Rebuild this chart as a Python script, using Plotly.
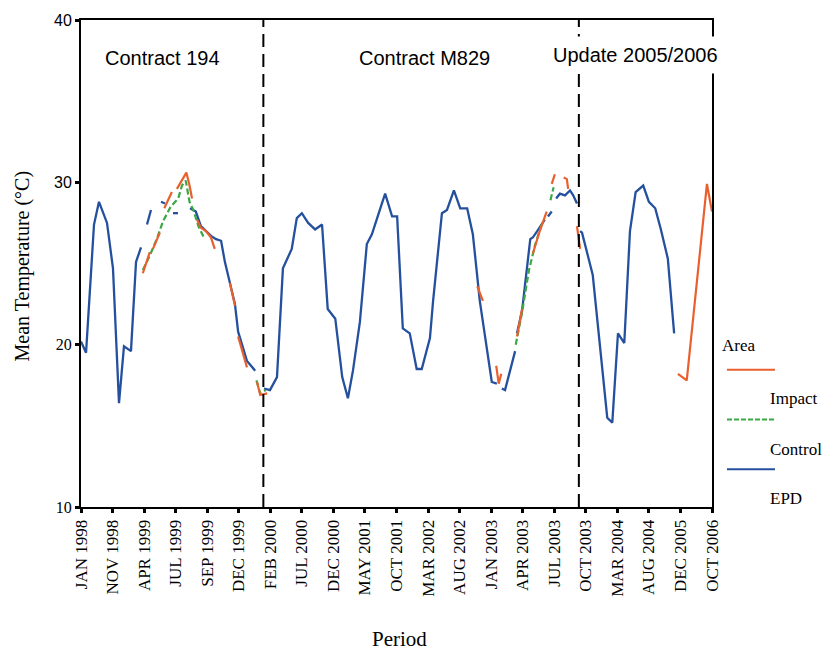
import plotly.graph_objects as go

# ---- survey periods (one tick every fifth sampling occasion) ----
period_labels = ["JAN 1998", "NOV 1998", "APR 1999", "JUL 1999", "SEP 1999",
                 "DEC 1999", "FEB 2000", "JUL 2000", "DEC 2000", "MAY 2001",
                 "OCT 2001", "MAR 2002", "AUG 2002", "JAN 2003", "APR 2003",
                 "JUL 2003", "OCT 2003", "MAR 2004", "AUG 2004", "DEC 2005",
                 "OCT 2006"]
label_index = list(range(0, 101, 5))
temp_ticks = [10, 20, 30, 40]

# contract boundaries (sampling index) and their names
period_breaks = [28.9, 78.9]
period_names = ["Contract 194", "Contract M829", "Update 2005/2006"]

# ---- mean temperature (°C); None marks a break in the record ----
epd_idx = [0.0, 0.8, 2.06, 2.85, 4.12, 5.07, 6.02, 6.81, 7.92, 8.72, 9.51, None,
           10.46, 11.09, None,
           12.68, 13.31, None,
           14.58, 15.37, None,
           17.27, 18.2, 19.0, 19.8, 20.6, 21.4, 22.2, 22.8, 23.6, 24.4, 24.9, 26.3, 27.6, None,
           29.0, 29.95, 31.06, 32.0, 33.4, 34.2, 35.0, 36.0, 37.1, 38.2, 39.1, 40.3, 41.4,
           42.3, 43.1, 44.2, 45.3, 46.1, 47.1, 48.2, 49.3, 50.1, 51.0, 52.1, 53.2, 54.0,
           55.3, 55.8, 57.2, 58.0, 59.1, 60.1, 61.2, 62.1, 63.2, 65.1, 65.9, None,
           66.7, 67.2, 68.8, None,
           69.1, 69.9, 71.2, 71.6, 72.3, 73.5, None,
           74.0, 74.6, None,
           75.3, 75.9, 76.7, 77.5, 78.0, 78.6, None,
           79.1, 79.4, 81.1, 83.4, 84.2, 85.1, 86.1, 87.0, 87.9, 89.1, 90.0, 91.0, 91.9,
           93.0, 94.0]
epd_temp = [20.2, 19.5, 27.4, 28.8, 27.5, 24.7, 16.4, 19.9, 19.6, 25.1, 26.0, None,
            27.4, 28.3, None,
            28.8, 28.7, None,
            28.1, 28.1, None,
            28.4, 28.2, 27.3, 27.0, 26.7, 26.5, 26.4, 25.1, 23.7, 22.5, 20.8, 19.0, 18.4, None,
            17.3, 17.2, 18.0, 24.7, 25.9, 27.8, 28.1, 27.5, 27.1, 27.4, 22.2, 21.6, 18.0,
            16.7, 18.4, 21.4, 26.2, 26.8, 28.0, 29.3, 27.9, 27.9, 21.0, 20.7, 18.5, 18.5,
            20.4, 22.7, 28.1, 28.3, 29.5, 28.4, 28.4, 26.8, 22.7, 17.7, 17.6, None,
            17.3, 17.2, 19.6, None,
            20.7, 22.1, 26.5, 26.6, 27.0, 27.7, None,
            27.9, 28.2, None,
            29.0, 29.3, 29.2, 29.5, 29.2, 28.7, None,
            27.0, 26.9, 24.3, 15.5, 15.2, 20.7, 20.1, 27.0, 29.4, 29.8, 28.8, 28.4, 27.1,
            25.3, 20.7]

impact_idx = [9.8, 10.9, None, 11.4, 12.5, None, 13.2, 14.4, None,
              15.2, 16.7, 17.2, 17.6, None,
              18.4, 19.0, 19.8, 20.6, 21.2, None,
              23.6, 24.4, None, 24.9, 26.3, None, 27.9, 28.4, 29.5, None,
              62.8, 63.7, None, 65.8, 66.2, 66.6, None, 69.1, 69.9, None,
              71.6, 72.7, 73.8, None, 74.6, 75.1, None, 76.5, 77.0, 77.2, None,
              78.6, 79.1, None,
              94.6, 96.0, 99.2, 100.0]
impact_temp = [24.4, 25.7, None, 25.9, 26.9, None, 28.4, 29.4, None,
               29.6, 30.6, 29.8, 29.0, None,
               27.7, 27.2, 27.0, 26.6, 25.9, None,
               23.8, 22.4, None, 20.5, 18.6, None, 17.7, 16.9, 17.0, None,
               23.6, 22.7, None, 18.7, 17.6, 18.2, None, 20.5, 22.2, None,
               25.6, 27.0, 28.2, None, 29.9, 30.5, None, 30.3, 30.2, 29.6, None,
               27.3, 25.9, None,
               18.2, 17.8, 29.9, 28.2]

control_idx = [9.8, 10.8, 12.0, 13.0, 14.2, 15.4, 16.0, 16.6, 17.2, 17.8, 18.6, 19.6, None,
               27.8, 28.4, 29.3, None,
               68.9, 69.9, 71.0, 72.0, 73.0, None,
               74.4, 74.9]
control_temp = [24.6, 25.4, 26.5, 27.6, 28.5, 29.0, 29.8, 30.1, 28.8, 28.3, 27.3, 26.5, None,
                17.8, 17.0, 17.2, None,
                20.0, 22.0, 24.6, 26.2, 27.4, None,
                28.9, 29.7]

BLUE = "#25509e"
ORANGE = "#e9602e"
GREEN = "#3aa845"
SERIF = "Liberation Serif"
SANS = "Liberation Sans"

# plot-area edges in pixels, used to place the hand-drawn legend and labels
L, R, T, B = 81, 712, 17, 507


def px(x):
    return (x - L) / (R - L)


def py(y):
    return (B - y) / (B - T)


fig = go.Figure()
fig.add_trace(go.Scatter(x=epd_idx, y=epd_temp, mode="lines", name="EPD",
                         line=dict(color=BLUE, width=2.3), connectgaps=False))
fig.add_trace(go.Scatter(x=control_idx, y=control_temp, mode="lines", name="Control",
                         line=dict(color=GREEN, width=2.2, dash="6px,3px"), connectgaps=False))
fig.add_trace(go.Scatter(x=impact_idx, y=impact_temp, mode="lines", name="Impact",
                         line=dict(color=ORANGE, width=2.2), connectgaps=False))

# dashed boundaries between contracts
for xb in period_breaks:
    fig.add_shape(type="line", xref="x", yref="y", x0=xb, x1=xb, y0=10, y1=40,
                  line=dict(color="black", width=2, dash="13px,7px"))

# contract names
name_pos = [(162, 55), (424, 55), (635, 52)]
for (xp, yp), txt in zip(name_pos, period_names):
    last = txt == period_names[-1]
    fig.add_annotation(x=px(xp), y=py(yp), xref="paper", yref="paper", text=txt,
                       showarrow=False, xanchor="center", yanchor="middle",
                       font=dict(family=SANS, size=20, color="black"),
                       bgcolor="white" if last else None, borderpad=7 if last else 0)

# legend drawn by hand
fig.add_annotation(x=px(720), y=py(345), xref="paper", yref="paper", text="Area",
                   showarrow=False, xanchor="left", yanchor="middle",
                   font=dict(family=SERIF, size=17, color="black"))
legend_rows = [("Impact", ORANGE, "solid", 369, 398),
               ("Control", GREEN, "5px,2px", 419, 449),
               ("EPD", BLUE, "solid", 469, 498)]
for label, col, dash, yl, yt in legend_rows:
    fig.add_shape(type="line", xref="paper", yref="paper", x0=px(727), x1=px(775),
                  y0=py(yl), y1=py(yl), line=dict(color=col, width=2, dash=dash))
    fig.add_annotation(x=px(768), y=py(yt), xref="paper", yref="paper", text=label,
                       showarrow=False, xanchor="left", yanchor="middle",
                       font=dict(family=SERIF, size=17, color="black"))

# axis titles
fig.add_annotation(x=px(22), y=py(265), xref="paper", yref="paper",
                   text="Mean Temperature (°C)", textangle=-90, showarrow=False,
                   xanchor="center", yanchor="middle",
                   font=dict(family=SERIF, size=20, color="black"))
fig.add_annotation(x=px(400), y=py(640), xref="paper", yref="paper", text="Period",
                   showarrow=False, xanchor="center", yanchor="middle",
                   font=dict(family=SERIF, size=21, color="black"))

y_ticktext = [f'<span style="font-family:{SANS if v >= 30 else SERIF}">{v}</span>'
              for v in temp_ticks]

fig.update_xaxes(range=[0, 100], tickmode="array", tickvals=label_index,
                 ticktext=period_labels, tickangle=-90,
                 tickfont=dict(family=SERIF, size=17, color="black"),
                 showline=True, linecolor="black", linewidth=2, mirror=True,
                 ticks="outside", ticklen=4, tickwidth=3, tickcolor="black",
                 showgrid=False, zeroline=False)
fig.update_yaxes(range=[10, 40], tickmode="array", tickvals=temp_ticks,
                 ticktext=y_ticktext,
                 tickfont=dict(family=SERIF, size=16, color="black"),
                 showline=True, linecolor="black", linewidth=2, mirror=True,
                 ticks="outside", ticklen=4, tickwidth=3, tickcolor="black",
                 showgrid=False, zeroline=False)

fig.update_layout(width=830, height=650, showlegend=False,
                  margin=dict(l=L, r=830 - R, t=T, b=650 - B),
                  paper_bgcolor="white", plot_bgcolor="white")

fig.write_html("out.html")
